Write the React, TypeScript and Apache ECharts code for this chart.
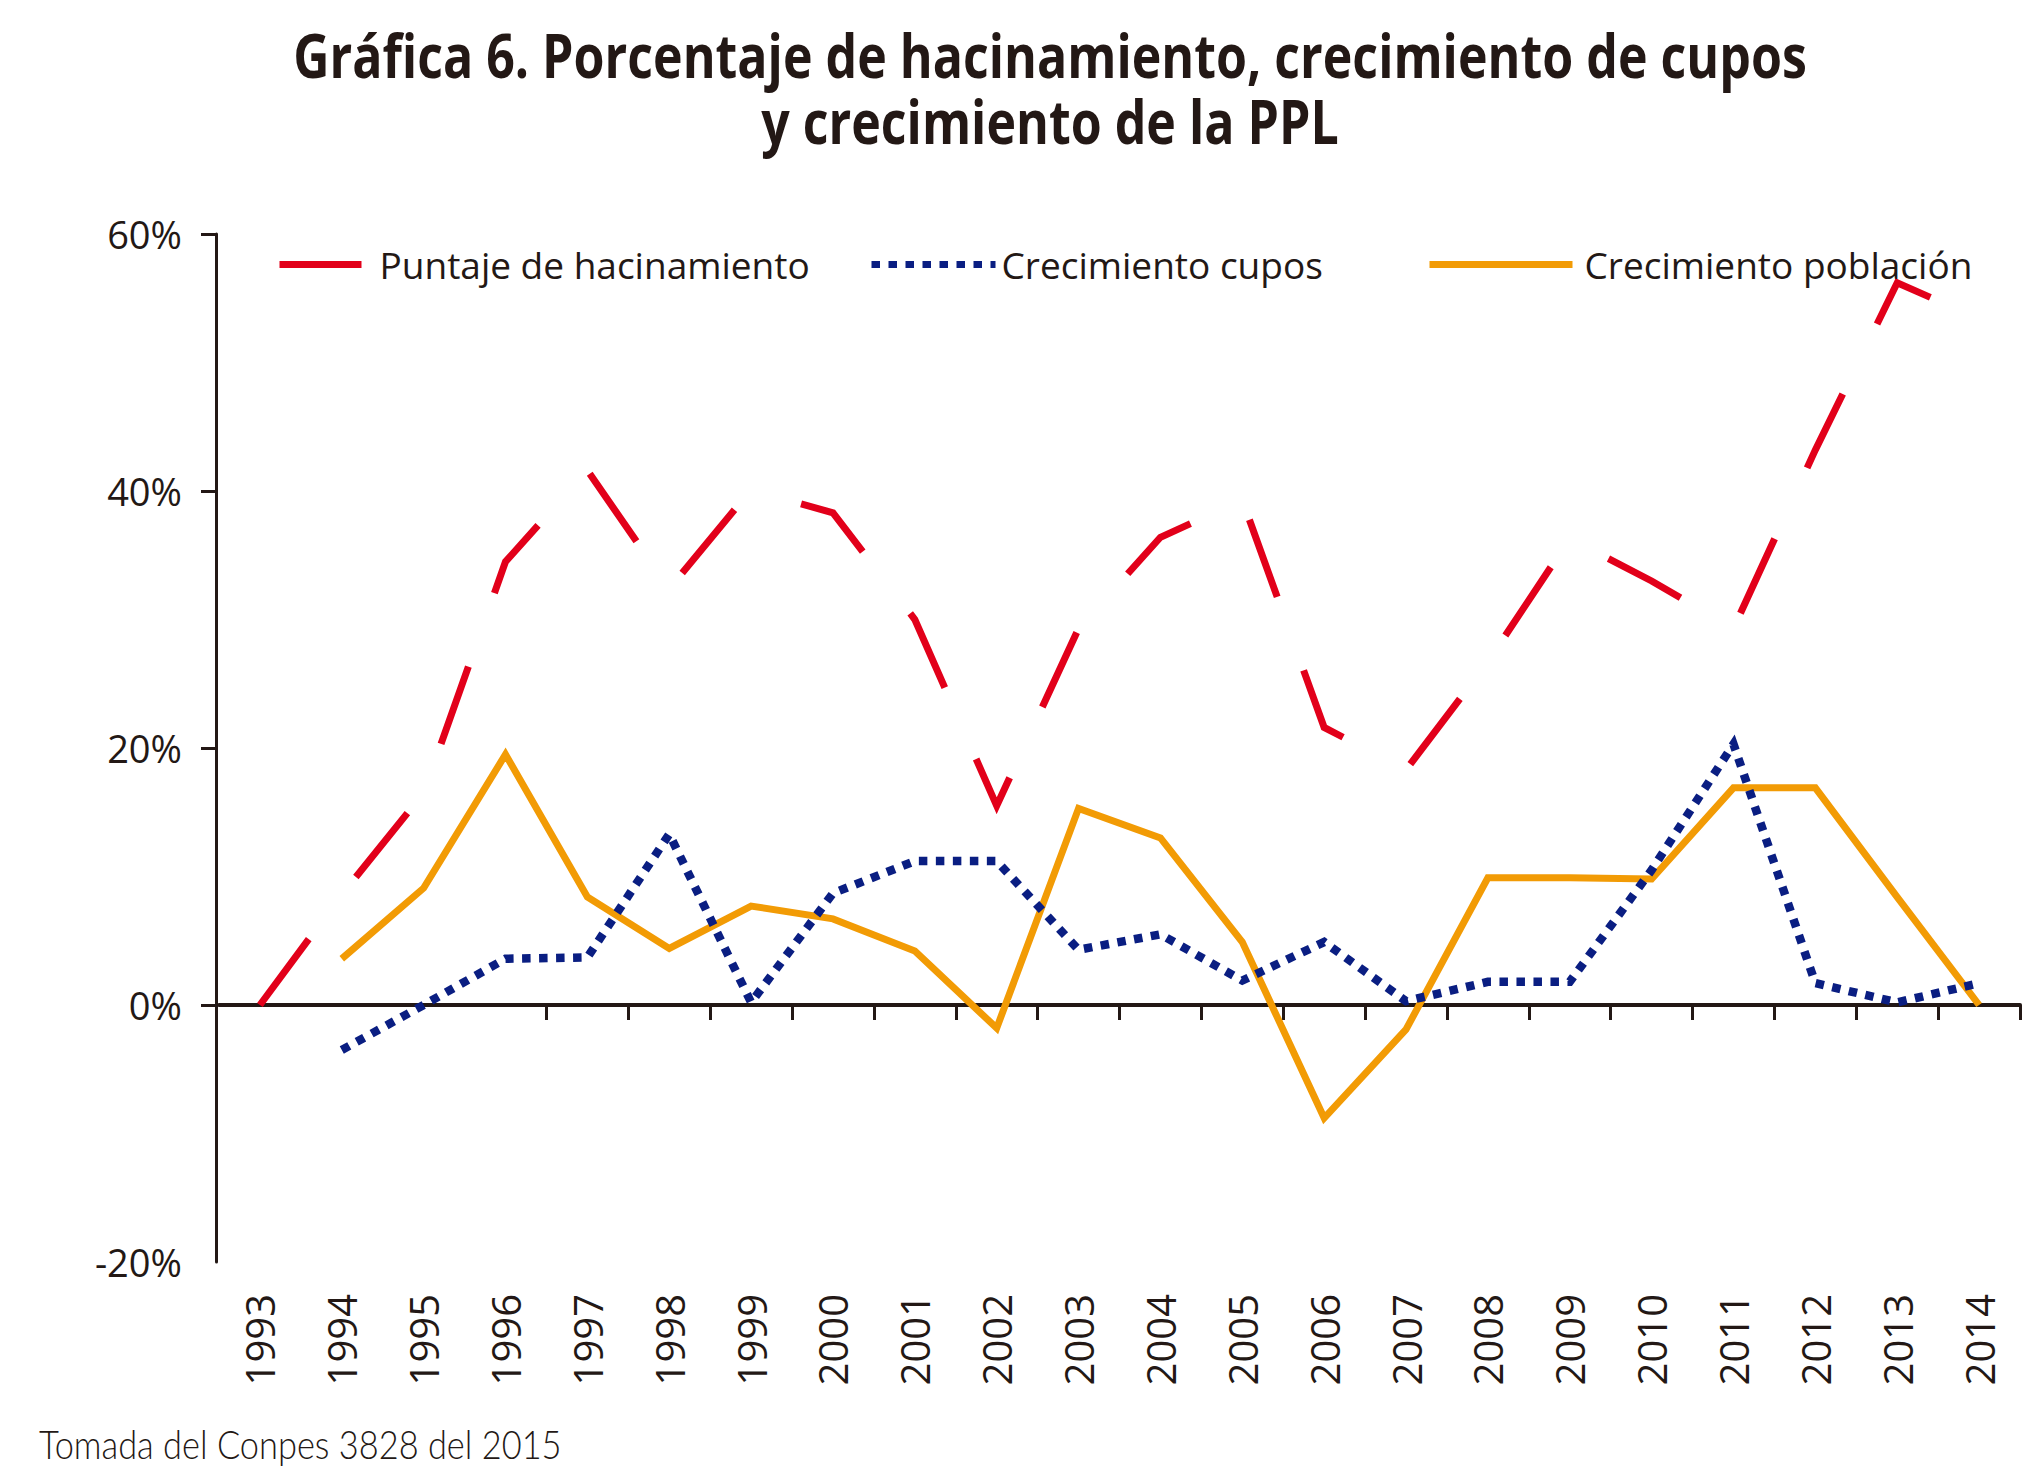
import React, { useEffect, useRef } from "react";
import * as echarts from "echarts";

const years = [
  "1993", "1994", "1995", "1996", "1997", "1998", "1999", "2000", "2001", "2002", "2003",
  "2004", "2005", "2006", "2007", "2008", "2009", "2010", "2011", "2012", "2013", "2014",
];
const hacinamiento = [
  0, 8.6, 16.5, 34.5, 41.6, 32.4, 40.1, 38.3, 30, 15.5, 29.3,
  36.4, 39.3, 21.6, 18.3, 26.7, 36.3, 33, 29.3, 43.2, 56.2, 53.4,
];
const cupos = [
  null, -3.5, 0, 3.6, 3.7, 13.3, 0.2, 8.7, 11.2, 11.2, 4.3,
  5.5, 1.9, 4.9, 0.3, 1.8, 1.8, 10.5, 20.3, 1.7, 0.2, 1.7,
];
const poblacion = [
  null, 3.6, 9.1, 19.5, 8.4, 4.4, 7.7, 6.7, 4.2, -1.8, 15.3,
  13.0, 4.9, -8.8, -1.9, 9.9, 9.9, 9.8, 16.9, 16.9, 8.4, 0,
];
const yTickValues = [0, 20, 40, 60];
const seriesNames = ["Puntaje de hacinamiento", "Crecimiento cupos", "Crecimiento población"];
const titleLines = [
  "Gráfica 6. Porcentaje de hacinamiento, crecimiento de cupos",
  "y crecimiento de la PPL",
];
const sourceNote = "Tomada del Conpes 3828 del 2015";

const TEXT = "#231815";
const RED = "#E2001A";
const BLUE = "#0A1E82";
const ORANGE = "#F29B05";
const SANS = "'Open Sans', sans-serif";

export default function App() {
  const ref = useRef<HTMLDivElement>(null);
  useEffect(() => {
    const chart = echarts.init(ref.current!, null, { renderer: "svg" });
    const legendBase = {
      top: 246,
      padding: 0,
      itemHeight: 14,
      selectedMode: false,
      itemStyle: { color: "rgba(0,0,0,0)", borderColor: "rgba(0,0,0,0)", borderWidth: 0 },
      lineStyle: { width: 7, type: "inherit" },
      textStyle: { fontSize: 37, fontFamily: SANS, color: TEXT },
    };
    chart.setOption({
      animation: false,
      backgroundColor: "#ffffff",
      grid: { left: 219, right: 19, top: 234, bottom: 210, containLabel: false, outerBoundsMode: "none" },
      legend: [
        { ...legendBase, left: 276, itemWidth: 82, data: [seriesNames[0]], textStyle: { ...legendBase.textStyle, padding: [0, 0, 0, 13] } },
        { ...legendBase, left: 868, itemWidth: 124, data: [seriesNames[1]], textStyle: { ...legendBase.textStyle, padding: [0, 0, 0, 1] } },
        { ...legendBase, left: 1426, itemWidth: 143, data: [seriesNames[2]], textStyle: { ...legendBase.textStyle, padding: [0, 0, 0, 7] } },
      ],
      xAxis: [
        {
          type: "category",
          data: years,
          boundaryGap: true,
          axisLine: { onZero: true, lineStyle: { color: TEXT, width: 4 } },
          axisTick: { show: true, length: 15, lineStyle: { color: TEXT, width: 3 }, interval: (i: number) => i >= 4 },
          axisLabel: { show: false },
          splitLine: { show: false },
        },
        {
          type: "category",
          data: years,
          boundaryGap: true,
          position: "bottom",
          axisLine: { show: false, onZero: false },
          axisTick: { show: false },
          axisLabel: { show: true, rotate: 90, interval: 0, margin: 32, fontSize: 40, fontFamily: SANS, color: TEXT },
          splitLine: { show: false },
        },
      ],
      yAxis: {
        type: "value",
        min: -20,
        max: 60,
        interval: 20,
        offset: 3,
        axisLine: { show: true, lineStyle: { color: TEXT, width: 3 } },
        axisTick: { show: true, length: 15, customValues: yTickValues, lineStyle: { color: TEXT, width: 3 } },
        axisLabel: { formatter: "{value}%", margin: 34, fontSize: 38, fontFamily: SANS, color: TEXT },
        splitLine: { show: false },
      },
      series: [
        {
          name: seriesNames[0],
          type: "line",
          data: hacinamiento,
          symbol: "none",
          color: RED,
          lineStyle: { color: RED, width: 7, type: [82, 78], join: "miter" },
        },
        {
          name: seriesNames[2],
          type: "line",
          data: poblacion,
          symbol: "none",
          color: ORANGE,
          lineStyle: { color: ORANGE, width: 7, type: "solid", join: "miter" },
        },
        {
          name: seriesNames[1],
          type: "line",
          data: cupos,
          symbol: "none",
          color: BLUE,
          lineStyle: { color: BLUE, width: 8.5, type: [8.5, 8.5], join: "miter" },
        },
      ],
      graphic: [
        {
          type: "text",
          x: 1050,
          y: 55,
          scaleX: 0.835,
          style: {
            text: titleLines[0],
            fontSize: 60,
            fontWeight: "bold",
            fontFamily: SANS,
            fill: TEXT,
            align: "center",
            verticalAlign: "middle",
          },
        },
        {
          type: "text",
          x: 1050,
          y: 121,
          scaleX: 0.835,
          style: {
            text: titleLines[1],
            fontSize: 60,
            fontWeight: "bold",
            fontFamily: SANS,
            fill: TEXT,
            align: "center",
            verticalAlign: "middle",
          },
        },
        {
          type: "text",
          x: 39,
          y: 1443,
          scaleX: 0.86,
          style: {
            text: sourceNote,
            fontSize: 40,
            fontWeight: 300,
            fontFamily: "Lato, 'Open Sans', sans-serif",
            fill: TEXT,
            align: "left",
            verticalAlign: "middle",
          },
        },
      ],
    });
    return () => chart.dispose();
  }, []);
  return (
    <div
      ref={ref}
      style={{ position: "absolute", left: 0, top: 0, width: 2039, height: 1472, background: "#ffffff" }}
    />
  );
}
